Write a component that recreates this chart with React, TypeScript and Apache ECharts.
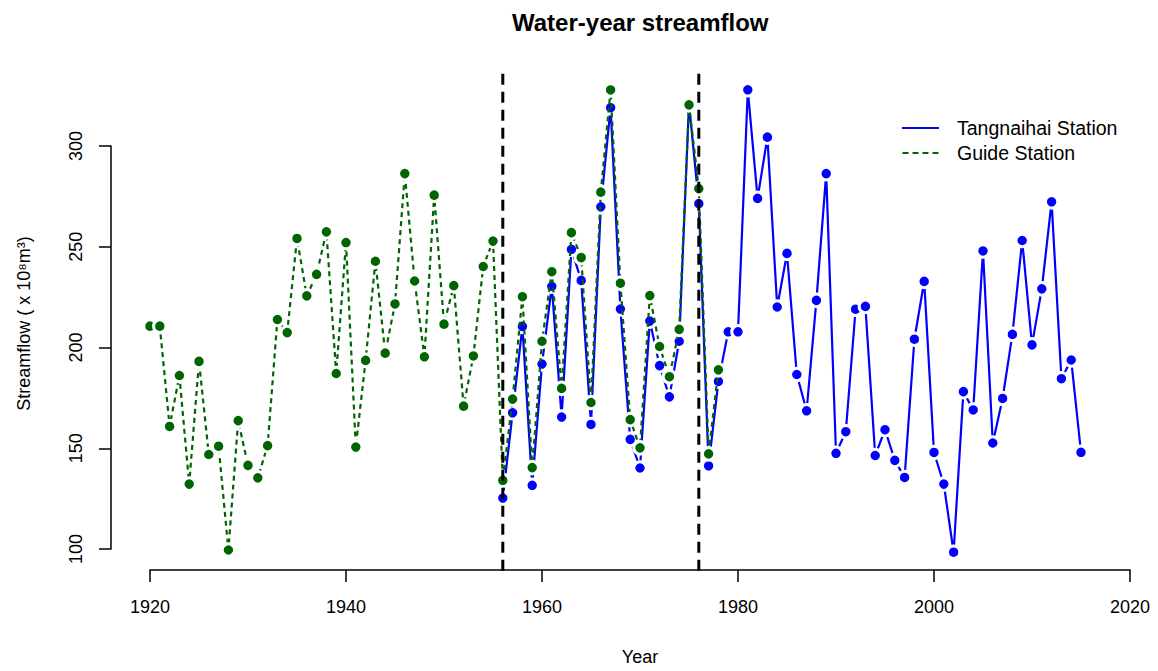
import React, { useEffect, useRef } from "react";
import * as echarts from "echarts";

const guideYears: number[] = [
  1920, 1921, 1922, 1923, 1924, 1925, 1926, 1927, 1928, 1929,
  1930, 1931, 1932, 1933, 1934, 1935, 1936, 1937, 1938, 1939,
  1940, 1941, 1942, 1943, 1944, 1945, 1946, 1947, 1948, 1949,
  1950, 1951, 1952, 1953, 1954, 1955, 1956, 1957, 1958, 1959,
  1960, 1961, 1962, 1963, 1964, 1965, 1966, 1967, 1968, 1969,
  1970, 1971, 1972, 1973, 1974, 1975, 1976, 1977, 1978,
];
const guideFlow: number[] = [
  210.6, 210.6, 160.8, 186.1, 132.2, 193.1, 146.9, 151.0, 99.5, 163.7,
  141.5, 135.3, 151.3, 213.9, 207.4, 254.1, 225.6, 236.3, 257.4, 187.1,
  252.1, 150.6, 193.6, 242.8, 197.2, 221.6, 286.3, 233.0, 195.4, 275.6,
  211.6, 230.7, 170.9, 195.8, 240.2, 252.8, 134.1, 174.4, 225.2, 140.4,
  203.1, 237.6, 179.7, 257.0, 244.6, 172.7, 277.1, 327.8, 231.9, 164.2,
  150.2, 225.8, 200.5, 185.5, 209.0, 320.4, 278.8, 147.2, 188.9,
];
const tangYears: number[] = [
  1956, 1957, 1958, 1959, 1960, 1961, 1962, 1963, 1964, 1965,
  1966, 1967, 1968, 1969, 1970, 1971, 1972, 1973, 1974, 1975,
  1976, 1977, 1978, 1979, 1980, 1981, 1982, 1983, 1984, 1985,
  1986, 1987, 1988, 1989, 1990, 1991, 1992, 1993, 1994, 1995,
  1996, 1997, 1998, 1999, 2000, 2001, 2002, 2003, 2004, 2005,
  2006, 2007, 2008, 2009, 2010, 2011, 2012, 2013, 2014, 2015,
];
const tangFlow: number[] = [
  125.3, 167.6, 210.5, 131.6, 191.8, 230.4, 165.5, 248.7, 233.3, 161.8,
  269.8, 319.0, 219.1, 154.4, 140.2, 213.1, 191.0, 175.5, 203.1, 321.0,
  271.4, 141.3, 183.2, 207.8, 207.8, 327.9, 274.0, 304.4, 220.1, 246.7,
  186.6, 168.6, 223.4, 286.3, 147.5, 158.2, 219.0, 220.4, 146.4, 159.2,
  144.0, 135.5, 204.1, 232.8, 147.9, 132.2, 98.4, 178.1, 169.0, 247.9,
  152.6, 174.7, 206.5, 253.1, 201.3, 229.1, 272.3, 184.5, 193.8, 148.0,
];
const breakYears: number[] = [1956, 1976];
const xTicks = { min: 1920, max: 2020, interval: 20 };
const yTicks = { min: 100, max: 300, interval: 50 };

const FONT = "'Liberation Sans', Arial, Helvetica, sans-serif";

export default function App() {
  const ref = useRef<HTMLDivElement>(null);
  useEffect(() => {
    document.body.style.margin = "0";
    if (!ref.current) return;
    const chart = echarts.init(ref.current, undefined, { renderer: "svg" });
    const all = guideFlow.concat(tangFlow);
    const dMin = Math.min(...all);
    const dMax = Math.max(...all);
    const pad = (dMax - dMin) * 0.04;
    const yLo = dMin - pad;
    const yHi = dMax + pad;

    const vlines = breakYears.map((yr) => ({
      type: "line",
      data: [
        [yr, yLo],
        [yr, yHi],
      ],
      symbol: "none",
      clip: false,
      silent: true,
      z: 5,
      lineStyle: { color: "#000", width: 3, type: [11, 7] },
    }));

    chart.setOption({
      animation: false,
      backgroundColor: "#fff",
      textStyle: { fontFamily: FONT },
      title: {
        text: "Water-year streamflow",
        left: 512,
        top: 10,
        padding: 0,
        textStyle: { fontSize: 24, fontWeight: "bold", color: "#000", fontFamily: FONT },
      },
      legend: {
        orient: "vertical",
        left: 902,
        top: 118,
        itemWidth: 37,
        itemHeight: 2,
        itemGap: 5,
        padding: 0,
        itemStyle: { borderWidth: 0 },
        textStyle: { fontSize: 19.5, color: "#000", fontFamily: FONT, padding: [0, 0, 0, 13] },
        data: [
          { name: "Tangnaihai Station", icon: "path://M0,0H37V2H0Z" },
          {
            name: "Guide Station",
            icon: "path://M0,0H6V2H0Z M10,0H16V2H10Z M20,0H26V2H20Z M30,0H36V2H30Z",
          },
        ],
      },
      grid: { left: 150, right: 28, top: 146, bottom: 117, containLabel: false },
      xAxis: {
        type: "value",
        min: xTicks.min,
        max: xTicks.max,
        interval: xTicks.interval,
        offset: 21,
        name: "Year",
        nameLocation: "middle",
        nameGap: 78,
        nameTextStyle: { fontSize: 18, color: "#000", fontFamily: FONT },
        axisLine: { show: true, lineStyle: { color: "#000", width: 1.5 } },
        axisTick: { show: true, length: 12, lineStyle: { color: "#000", width: 1.5 } },
        axisLabel: {
          fontSize: 18,
          color: "#000",
          margin: 28,
          fontFamily: FONT,
          formatter: (v: number) => String(v),
        },
        splitLine: { show: false },
      },
      yAxis: {
        type: "value",
        min: yTicks.min,
        max: yTicks.max,
        interval: yTicks.interval,
        offset: 39,
        name: "Streamflow ( x 10\u2078m\u00b3)",
        nameLocation: "middle",
        nameGap: 78,
        nameTextStyle: { fontSize: 18, color: "#000", fontFamily: FONT, padding: [0, 0, 0, 48] },
        axisLine: { show: true, lineStyle: { color: "#000", width: 1.5 } },
        axisTick: { show: true, length: 12, lineStyle: { color: "#000", width: 1.5 } },
        axisLabel: {
          fontSize: 18,
          color: "#000",
          rotate: 90,
          margin: 26,
          fontFamily: FONT,
          formatter: (v: number) => String(v),
        },
        splitLine: { show: false },
      },
      series: [
        {
          type: "line",
          name: "Tangnaihai Station",
          data: tangYears.map((y, i) => [y, tangFlow[i]]),
          clip: false,
          symbol: "circle",
          symbolSize: 12.5,
          z: 2,
          itemStyle: { color: "#0000ff", borderColor: "#ffffff", borderWidth: 3 },
          lineStyle: { color: "#0000ff", width: 2.2 },
          emphasis: { disabled: true },
        },
        {
          type: "line",
          name: "Guide Station",
          data: guideYears.map((y, i) => [y, guideFlow[i]]),
          clip: false,
          symbol: "circle",
          symbolSize: 12.5,
          z: 3,
          itemStyle: { color: "#006400", borderColor: "#ffffff", borderWidth: 3 },
          lineStyle: { color: "#006400", width: 2.2, type: [5, 4] },
          emphasis: { disabled: true },
        },
        ...vlines,
      ],
    });
    return () => chart.dispose();
  }, []);
  return <div ref={ref} style={{ width: 1158, height: 671 }} />;
}
